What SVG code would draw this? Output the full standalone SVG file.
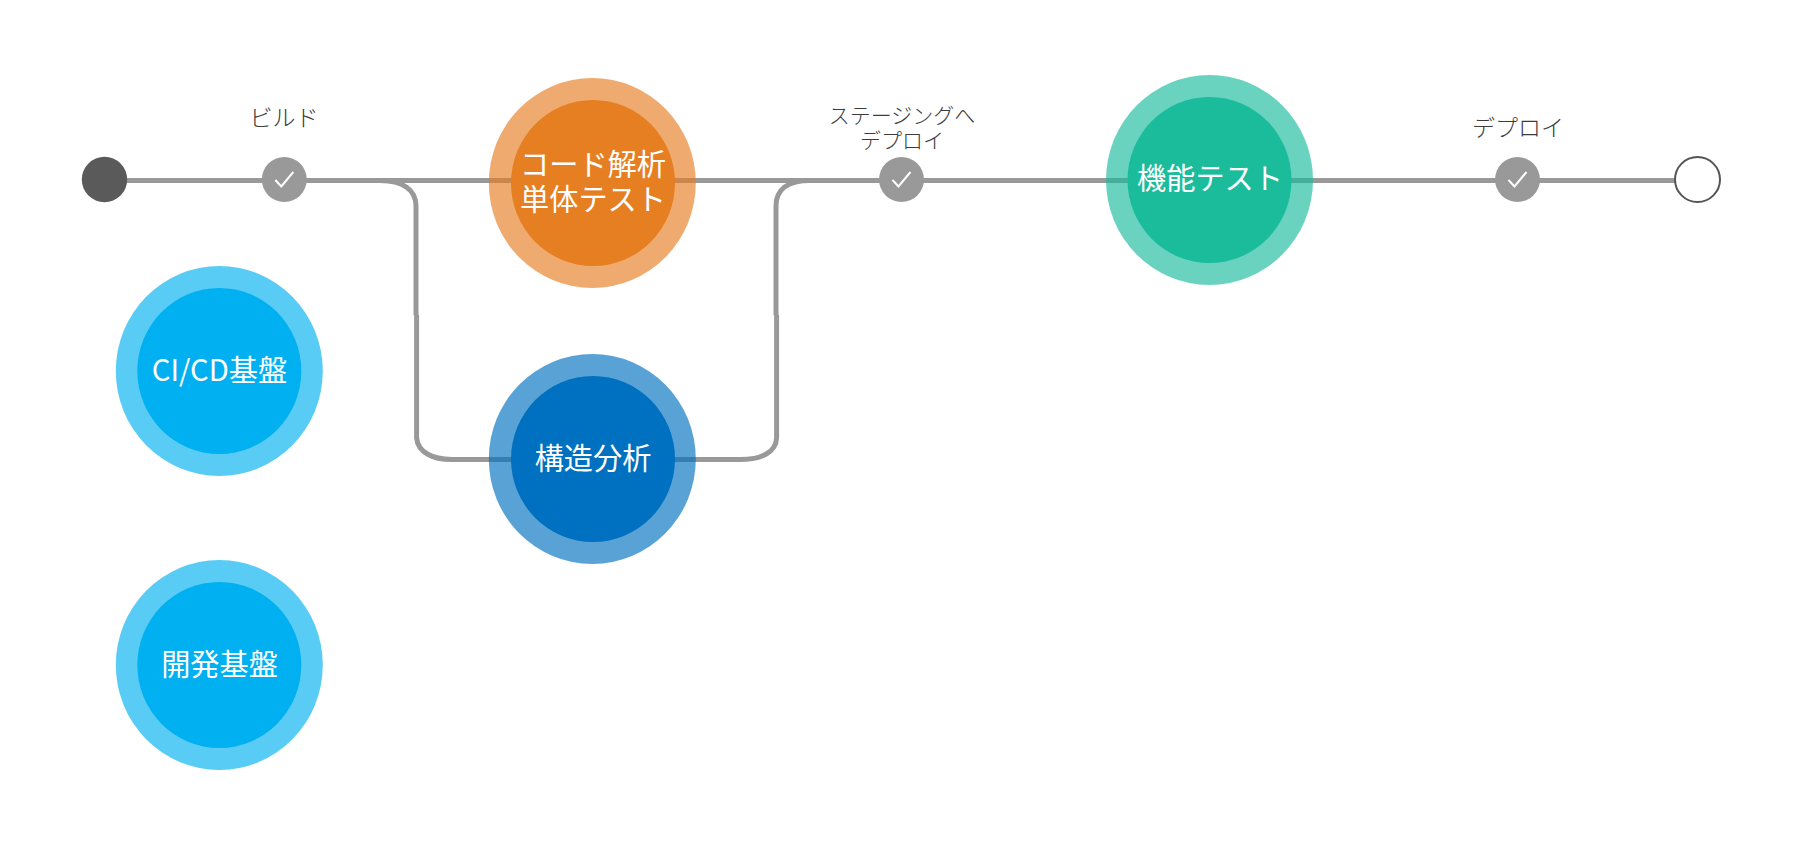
<svg xmlns="http://www.w3.org/2000/svg" width="1802" height="845" viewBox="0 0 1802 845">
<style>
text{font-family:"Noto Sans CJK JP","Noto Sans",sans-serif;text-anchor:middle}
.t{font-size:29.200px;fill:#fff;font-weight:400}
.l{font-size:23px;fill:#3c3c3c;font-weight:300}
.s{font-size:21px;fill:#3c3c3c;font-weight:300}
.c{fill:none;stroke:#999;stroke-width:5}
.k{fill:none;stroke:#fff;stroke-width:2}
.p{fill:#999}
.ro{fill:#e67e22;fill-opacity:.65}.io{fill:#e67e22}
.rb{fill:#0070c0;fill-opacity:.65}.ib{fill:#0070c0}
.rg{fill:#1abc9c;fill-opacity:.65}.ig{fill:#1abc9c}
.rs{fill:#00b0f0;fill-opacity:.65}.is{fill:#00b0f0}
</style>
<g id="connectors">
<path class="c" d="M104.500 180.500H1697"/>
<path class="c" d="M380 180.500C403 180.500 416 190 416 206V315"/>
<path class="c" d="M416.600 315V438C418 452 432 459.500 452 459.500H592"/>
<path class="c" d="M810 180.500C787 180.500 776 190 776 206V315"/>
<path class="c" d="M776.600 315V438C776 452 762 459.500 740 459.500H592"/>
</g>
<g id="start"><ellipse cx="104.500" cy="179.500" rx="22.700" ry="22.700" fill="#5a5a5a"/></g>
<g id="build"><circle class="p" cx="284.300" cy="179.500" r="22.500"/><path class="k" d="M275.300 180L281.300 186.500L293.300 172"/><text class="l" x="284" y="126">ビルド</text></g>
<g id="code"><ellipse class="ro" cx="592.300" cy="183" rx="103.500" ry="105"/><ellipse class="io" cx="593" cy="183" rx="82" ry="83"/><text class="t" x="593" y="175">コード解析</text><text class="t" x="593" y="210">単体テスト</text></g>
<g id="struct"><ellipse class="rb" cx="592.300" cy="459" rx="103.500" ry="105"/><ellipse class="ib" cx="593" cy="459" rx="82" ry="83"/><text class="t" x="593" y="469">構造分析</text></g>
<g id="staging"><circle class="p" cx="901.500" cy="179.500" r="22.500"/><path class="k" d="M892.500 180L898.500 186.500L910.500 172"/><text class="s" x="902" y="123">ステージングへ</text><text class="s" x="902" y="148">デプロイ</text></g>
<g id="func"><ellipse class="rg" cx="1209.500" cy="180" rx="103.500" ry="105"/><ellipse class="ig" cx="1209.500" cy="180" rx="82" ry="83"/><text class="t" x="1210" y="189">機能テスト</text></g>
<g id="deploy"><circle class="p" cx="1517.500" cy="179.500" r="22.500"/><path class="k" d="M1508.500 180L1514.500 186.500L1526.500 172"/><text class="l" x="1518" y="136">デプロイ</text></g>
<g id="end"><ellipse cx="1697.500" cy="179.500" rx="22.500" ry="22.500" fill="#fff" stroke="#555" stroke-width="2"/></g>
<g id="cicd"><ellipse class="rs" cx="219.300" cy="371" rx="103.500" ry="105"/><ellipse class="is" cx="219.300" cy="371" rx="82" ry="83"/><text class="t" x="219.500" y="381">CI/CD基盤</text></g>
<g id="dev"><ellipse class="rs" cx="219.300" cy="665" rx="103.500" ry="105"/><ellipse class="is" cx="219.300" cy="665" rx="82" ry="83"/><text class="t" x="219.500" y="675">開発基盤</text></g>
</svg>
